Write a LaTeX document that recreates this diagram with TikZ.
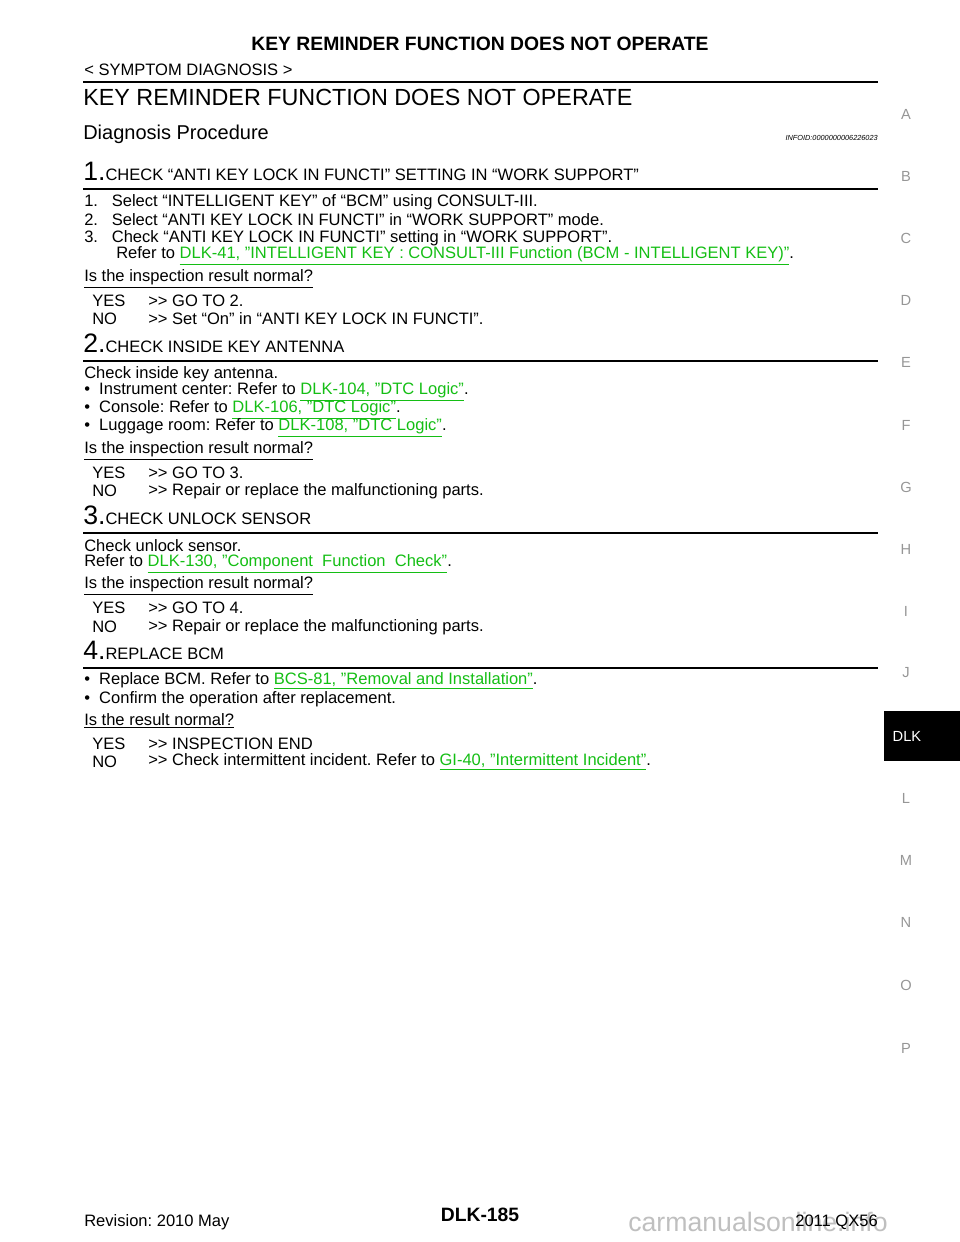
\documentclass[tikz,border=0pt]{standalone}
\usepackage{fontspec}
\defaultfontfeatures{}
\setmainfont{Liberation Sans}
\usepackage{xcolor}
\definecolor{linkGreen}{RGB}{20,190,20}
\definecolor{tabGray}{RGB}{150,150,150}
\newcommand{\lnk}[1]{{\color{linkGreen}\underline{#1}}}
\newcommand{\dq}{\symbol{"0022}}
\newcommand{\gt}{{>}{>}}
\newcommand{\bodyfont}{\fontsize{12.4}{14}\selectfont}
\frenchspacing
\begin{document}
\begin{tikzpicture}[x=0.75pt, y=-0.75pt]
  \tikzstyle{txt} = [anchor=west, inner sep=0pt, font=\bodyfont]
  \tikzstyle{stephead} = [anchor=base west, inner sep=0pt, font=\bodyfont]
  \tikzstyle{tab} = [inner sep=0pt, font=\fontsize{11}{13}\selectfont, text=tabGray]
  \tikzstyle{rule} = [line width=0.8pt]

  \useasboundingbox (0,0) rectangle (960,1242);

  % page header
  \node[inner sep=0pt, font=\fontsize{14.5}{16}\selectfont\bfseries] (hdr) at (480,44) {KEY REMINDER FUNCTION DOES NOT OPERATE};
  \node[txt] (sec) at (84,70) {< SYMPTOM DIAGNOSIS >};
  \draw[line width=1.6pt] (83,82) -- (878,82);
  \node[txt, font=\fontsize{17.5}{20}\selectfont] (title) at (83,97) {KEY REMINDER FUNCTION DOES NOT OPERATE};
  \node[txt, font=\fontsize{15}{18}\selectfont] (diag) at (83,134) {Diagnosis Procedure};
  \node[anchor=east, inner sep=0pt, font=\fontsize{5.5}{7}\selectfont\itshape] (info) at (878,138) {INFOID:0000000006226023};

  % step 1
  \node[stephead] (s1) at (83,180) {{\fontsize{20}{22}\selectfont 1.}CHECK “ANTI KEY LOCK IN FUNCTI” SETTING IN “WORK SUPPORT”};
  \draw[rule] (83,189) -- (878,189);
  \node[txt] (s1a) at (84,202) {1.\ \ \ Select “INTELLIGENT KEY” of “BCM” using CONSULT-III.};
  \node[txt] (s1b) at (84,220) {2.\ \ \ Select “ANTI KEY LOCK IN FUNCTI” in “WORK SUPPORT” mode.};
  \node[txt] (s1c) at (84,238) {3.\ \ \ Check “ANTI KEY LOCK IN FUNCTI” setting in “WORK SUPPORT”.};
  \node[txt] (s1d) at (116,256) {Refer to \lnk{DLK-41, \dq INTELLIGENT KEY : CONSULT-III Function (BCM - INTELLIGENT KEY)\dq}.};
  \node[txt] (q1) at (84,279) {\underline{Is the inspection result normal?}};
  \node[txt] (y1) at (92,301) {YES};
  \node[txt] (y1r) at (148,301) {\gt\ GO TO 2.};
  \node[txt] (n1) at (92,319) {NO};
  \node[txt] (n1r) at (148,319) {\gt\ Set “On” in “ANTI KEY LOCK IN FUNCTI”.};

  % step 2
  \node[stephead] (s2) at (83,352) {{\fontsize{20}{22}\selectfont 2.}CHECK INSIDE KEY ANTENNA};
  \draw[rule] (83,361) -- (878,361);
  \node[txt] (s2a) at (84,374) {Check inside key antenna.};
  \node[txt] (s2b) at (84,392) {•\ \ Instrument center: Refer to \lnk{DLK-104, \dq DTC Logic\dq}.};
  \node[txt] (s2c) at (84,410) {•\ \ Console: Refer to \lnk{DLK-106, \dq DTC Logic\dq}.};
  \node[txt] (s2d) at (84,428) {•\ \ Luggage room: Refer to \lnk{DLK-108, \dq DTC Logic\dq}.};
  \node[txt] (q2) at (84,451) {\underline{Is the inspection result normal?}};
  \node[txt] (y2) at (92,473) {YES};
  \node[txt] (y2r) at (148,473) {\gt\ GO TO 3.};
  \node[txt] (n2) at (92,491) {NO};
  \node[txt] (n2r) at (148,491) {\gt\ Repair or replace the malfunctioning parts.};

  % step 3
  \node[stephead] (s3) at (83,524) {{\fontsize{20}{22}\selectfont 3.}CHECK UNLOCK SENSOR};
  \draw[rule] (83,533) -- (878,533);
  \node[txt] (s3a) at (84,546) {Check unlock sensor.};
  \node[txt] (s3b) at (84,564) {Refer to \lnk{DLK-130, \dq Component\ \ Function\ \ Check\dq}.};
  \node[txt] (q3) at (84,586) {\underline{Is the inspection result normal?}};
  \node[txt] (y3) at (92,608) {YES};
  \node[txt] (y3r) at (148,608) {\gt\ GO TO 4.};
  \node[txt] (n3) at (92,627) {NO};
  \node[txt] (n3r) at (148,627) {\gt\ Repair or replace the malfunctioning parts.};

  % step 4
  \node[stephead] (s4) at (83,659) {{\fontsize{20}{22}\selectfont 4.}REPLACE BCM};
  \draw[rule] (83,668) -- (878,668);
  \node[txt] (s4a) at (84,681) {•\ \ Replace BCM. Refer to \lnk{BCS-81, \dq Removal and Installation\dq}.};
  \node[txt] (s4b) at (84,699) {•\ \ Confirm the operation after replacement.};
  \node[txt] (q4) at (84,721) {\underline{Is the result normal?}};
  \node[txt] (y4) at (92,744) {YES};
  \node[txt] (y4r) at (148,744) {\gt\ INSPECTION END};
  \node[txt] (n4) at (92,762) {NO};
  \node[txt] (n4r) at (148,762) {\gt\ Check intermittent incident. Refer to \lnk{GI-40, \dq Intermittent Incident\dq}.};

  % side tabs
  \foreach \lbl/\yy in {A/114, B/176, C/238, D/300, E/362, F/425, G/487, H/549, I/611, J/673, L/798, M/860, N/922, O/985, P/1048}
    \node[tab] (tab\lbl) at (906,\yy) {\lbl};
  \fill[black] (884,711) rectangle (960,761);
  \node[tab, text=white] (tabDLK) at (907,736) {DLK};

  % footer
  \node[inner sep=0pt, font=\fontsize{14.5}{16}\selectfont\bfseries] (pg) at (480,1215) {DLK-185};
  \node[txt] (rev) at (84,1222) {Revision: 2010 May};
  \node[anchor=west, inner sep=0pt, font=\fontsize{20}{22}\selectfont, text=gray!50] (wm) at (628,1222) {carmanualsonline.info};
  \node[anchor=east, inner sep=0pt, font=\bodyfont] (model) at (878,1222) {2011 QX56};
\end{tikzpicture}
\end{document}
